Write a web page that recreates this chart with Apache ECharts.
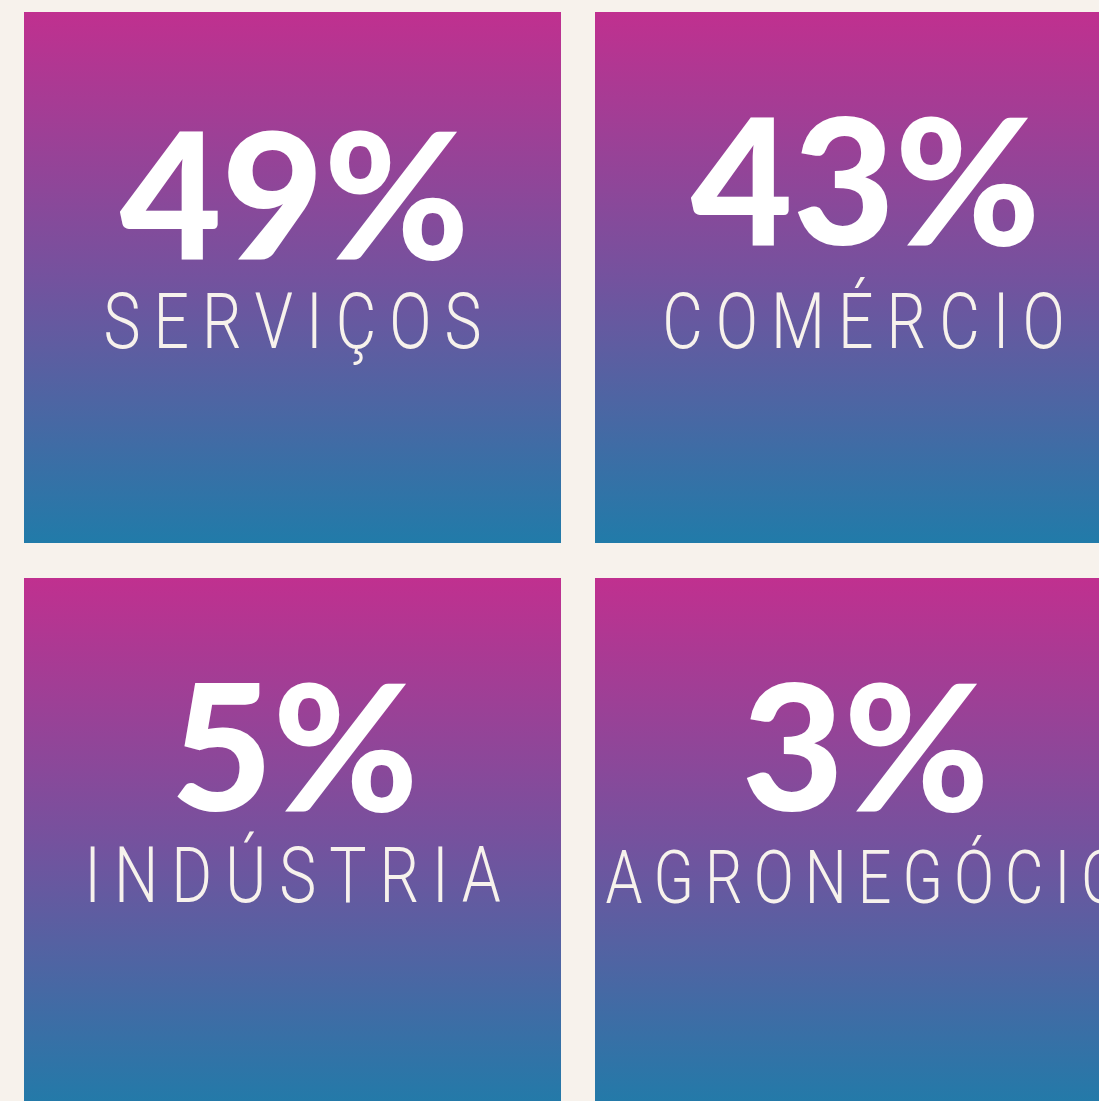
<!DOCTYPE html>
<html><head><meta charset="utf-8">
<script src="https://cdn.jsdelivr.net/npm/echarts@6/dist/echarts.min.js"></script>
<style>html,body{margin:0;padding:0;background:#F7F2EC;overflow:hidden}#c{width:1099px;height:1101px}</style>
</head><body><div id="c"></div><script>
// ---- data ----
const sectors = ['SERVIÇOS', 'COMÉRCIO', 'INDÚSTRIA', 'AGRONEGÓCIO'];
const shares = [49, 43, 5, 3];
const gridCols = [0, 1, 0, 1];
const gridRows = [0, 0, 1, 1];

// ---- layout / style ----
const GAP_X = 34, GAP_Y = 35;
const NUM_FONT = '900 176px Lato';
const LAB_SCALE = 0.8;
const labSize = [78, 78, 78, 74];
const labSpacing = [13, 13, 13, 11];
const numY = [190, 176, 176, 176];
const labY = [316, 316, 304, 306];

const measureCtx = document.createElement('canvas').getContext('2d');
function labFont(i) { return '300 ' + labSize[i] + 'px Roboto'; }
function charWidth(ch, i) { measureCtx.font = labFont(i); return measureCtx.measureText(ch).width * LAB_SCALE; }

const chart = echarts.init(document.getElementById('c'), null, {renderer: 'canvas'});
chart.setOption({
  backgroundColor: '#F7F2EC',
  animation: false,
  grid: {left: 24, top: 12, width: 1142, height: 1132, outerBoundsMode: 'none', containLabel: false},
  xAxis: {type: 'category', data: ['c0', 'c1'], show: false},
  yAxis: {type: 'category', data: ['r0', 'r1'], inverse: true, show: false},
  series: [{
    type: 'custom',
    clip: false,
    data: sectors.map((s, i) => [gridCols[i], gridRows[i], i]),
    renderItem: function (params, api) {
      const i = api.value(2);
      const c = api.coord([api.value(0), api.value(1)]);
      const band = api.size([1, 1]);
      const x = c[0] - band[0] / 2, y = c[1] - band[1] / 2;
      const w = band[0] - GAP_X, h = band[1] - GAP_Y;
      const cx = x + w / 2;
      const children = [{
        type: 'rect',
        shape: {x: x, y: y, width: w, height: h},
        style: {fill: new echarts.graphic.LinearGradient(0, 0, 0, 1, [
          {offset: 0, color: '#C0308F'},
          {offset: 0.5, color: '#74529E'},
          {offset: 1, color: '#217BA9'}
        ])}
      }, {
        type: 'text',
        style: {text: shares[i] + '%', x: cx + 2, y: y + numY[i], align: 'center', verticalAlign: 'middle',
          font: NUM_FONT, fill: '#FFFFFF'}
      }];
      const chars = Array.from(sectors[i]);
      const widths = chars.map(ch => charWidth(ch, i));
      const sp = labSpacing[i];
      const total = widths.reduce((a, b) => a + b, 0) + sp * (chars.length - 1);
      let lx = cx - total / 2;
      chars.forEach((ch, k) => {
        children.push({
          type: 'text', x: lx, y: y + labY[i], scaleX: LAB_SCALE,
          style: {text: ch, x: 0, y: 0, align: 'left', verticalAlign: 'middle', font: labFont(i), fill: '#F7F2EC'}
        });
        lx += widths[k] + sp;
      });
      return {type: 'group', children: children};
    }
  }]
});
</script></body></html>
